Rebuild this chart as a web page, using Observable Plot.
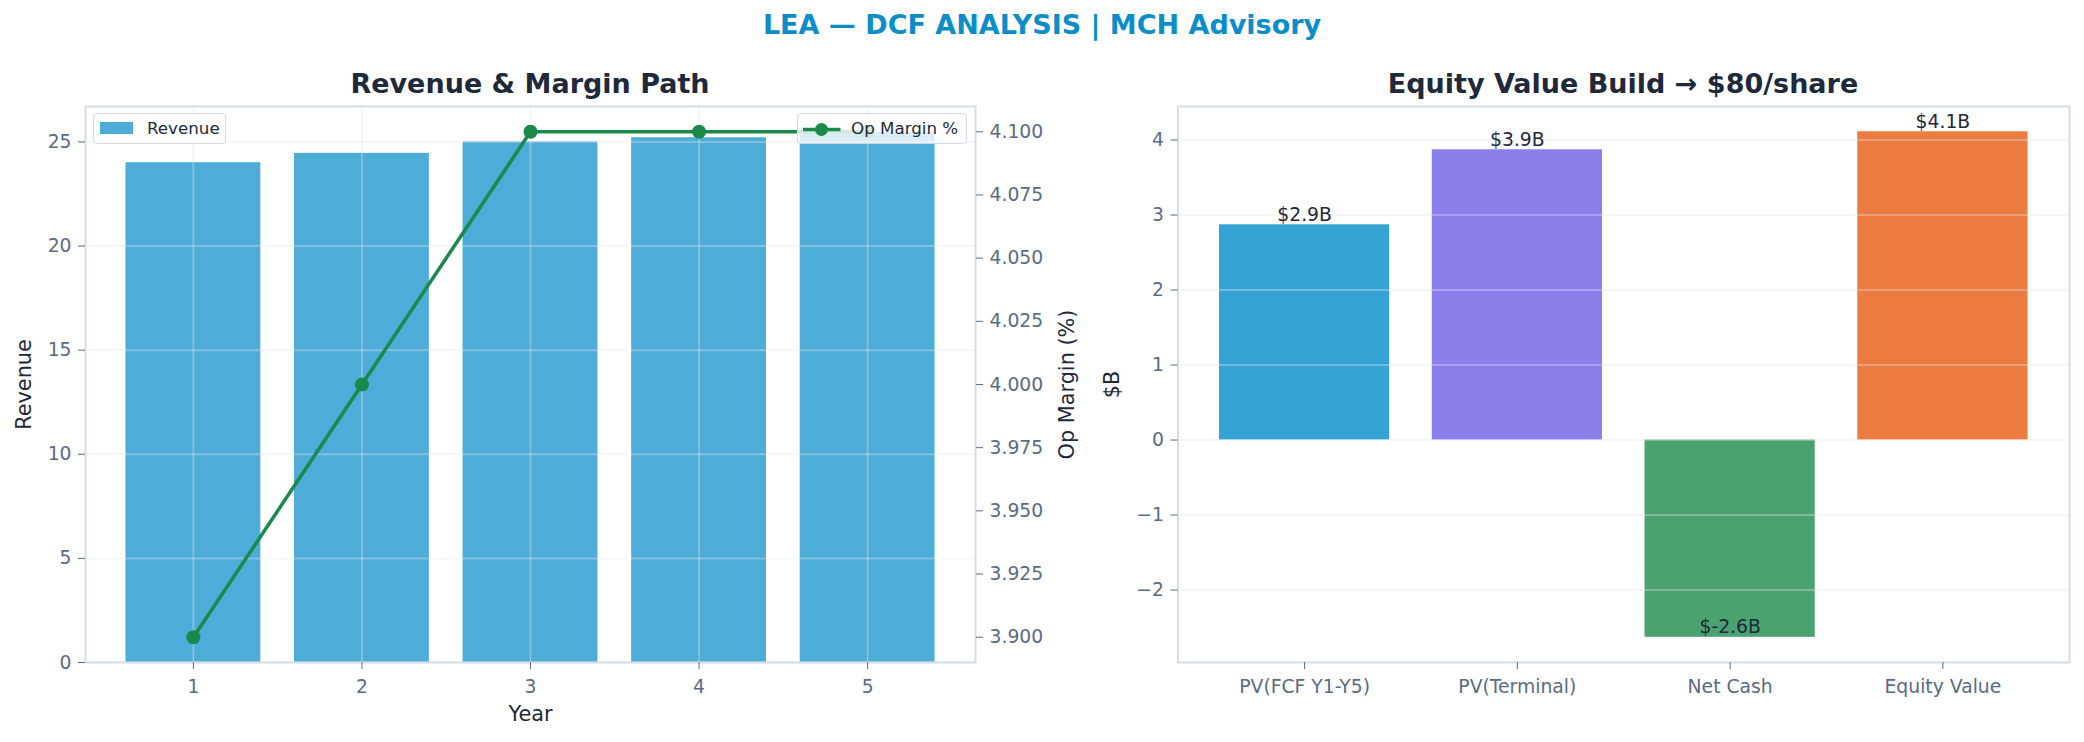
<!DOCTYPE html>
<html>
<head>
<meta charset="utf-8">
<script src="https://cdn.jsdelivr.net/npm/d3@7"></script>
<script src="https://cdn.jsdelivr.net/npm/@observablehq/plot@0.6"></script>
<style>
  html, body { margin: 0; padding: 0; background: #fff; }
  #root { position: relative; width: 2084px; height: 742px; background: #fff; font-family: "DejaVu Sans", sans-serif; overflow: hidden; }
  .abs { position: absolute; }
  .title { position: absolute; left: 0; width: 2084px; text-align: center; font-weight: bold; line-height: 1; white-space: nowrap; }
  .subtitle { position: absolute; text-align: center; font-weight: bold; line-height: 1; color: #1e293b; font-size: 27px; white-space: nowrap; }
  .legend { position: absolute; box-sizing: border-box; border: 1.5px solid #d3d9e0; border-radius: 4px; background: rgba(255,255,255,0.8); font-size: 16.7px; color: #1e293b; line-height: 1; }
  .legend span { position: absolute; white-space: nowrap; }
  svg { overflow: visible; }
</style>
</head>
<body>
<div id="root">
  <div class="title" style="top:11px;font-size:27px;color:#0a8dc9;">LEA — DCF ANALYSIS | MCH Advisory</div>
  <div class="subtitle" style="left:85px;width:890px;top:70px;">Revenue &amp; Margin Path</div>
  <div class="subtitle" style="left:1177px;width:892px;top:70px;">Equity Value Build → $80/share</div>
  <div id="leftBars" class="abs" style="left:0;top:96px;"></div>
  <div id="leftLine" class="abs" style="left:0;top:96px;"></div>
  <div id="right" class="abs" style="left:1100px;top:96px;"></div>
  <div class="legend" style="left:93px;top:113px;width:133px;height:31px;">
    <div class="abs" style="left:6px;top:8px;width:33px;height:11.5px;background:#4dacd8;"></div>
    <span style="left:53px;top:6px;">Revenue</span>
  </div>
  <div class="legend" style="left:797px;top:113px;width:170px;height:31px;">
    <svg class="abs" style="left:4px;top:6px;" width="40" height="20">
      <line x1="1" y1="9.5" x2="38.5" y2="9.5" stroke="#1a8a4a" stroke-width="3.5"></line>
      <circle cx="19.5" cy="9.5" r="6.5" fill="#1a8a4a"></circle>
    </svg>
    <span style="left:53px;top:6px;">Op Margin %</span>
  </div>
</div>
<script>
// ---- data ----
const years = [1, 2, 3, 4, 5];
const revenue = [24.0, 24.45, 25.0, 25.2, 25.45];
const opMargin = [3.9, 4.0, 4.1, 4.1, 4.1];

const bridgeCategories = ["PV(FCF Y1-Y5)", "PV(Terminal)", "Net Cash", "Equity Value"];
const bridgeValues = [2.87, 3.87, -2.63, 4.11];
const bridgeLabels = ["$2.9B", "$3.9B", "$-2.6B", "$4.1B"];

const revenueTicks = [0, 5, 10, 15, 20, 25];
const marginTicks = [3.9, 3.925, 3.95, 3.975, 4.0, 4.025, 4.05, 4.075, 4.1];
const bridgeTicks = [-2, -1, 0, 1, 2, 3, 4];

// ---- styles ----
const barColors = ["#34a3d3", "#8a7eea", "#4aa270", "#ec7b40"];
const tickColor = "#5b6b80";
const labelColor = "#1e293b";
const spineColor = "#d5dde6";
const tickFont = 18.75, axisLabelFont = 20.8;
const gridStyle = {stroke: "#e2e5ea", strokeOpacity: 0.35, strokeWidth: 2};
const baseStyle = {fontSize: tickFont + "px", fontFamily: "DejaVu Sans", color: tickColor, background: "transparent", overflow: "visible"};

const revData = years.map((y, i) => ({year: y, revenue: revenue[i], margin: opMargin[i]}));
const bridgeData = bridgeCategories.map((c, i) => ({cat: c, value: bridgeValues[i], label: bridgeLabels[i], color: barColors[i]}));

const W1 = 1140, H = 646;
const m1 = {marginLeft: 85, marginRight: 165, marginTop: 10, marginBottom: 80};
const xDomain = [0.36, 5.64];

// Left chart: revenue bars
const leftBars = Plot.plot({
  width: W1, height: H, ...m1,
  style: baseStyle,
  x: {domain: xDomain},
  y: {domain: [0, 26.7]},
  marks: [
    Plot.rectY(revData, {x1: d => d.year - 0.4, x2: d => d.year + 0.4, y1: 0, y2: "revenue", fill: "#4dacd8"}),
    Plot.gridX(years, {...gridStyle}),
    Plot.gridY(revenueTicks, {...gridStyle}),
    Plot.frame({stroke: spineColor, strokeWidth: 2}),
    Plot.axisX(years, {tickSize: 7, tickPadding: 10, tickFormat: d3.format("d"), label: null, stroke: tickColor}),
    Plot.axisY(revenueTicks, {tickSize: 7, tickPadding: 7, label: null, stroke: tickColor}),
    Plot.text(["Revenue"], {frameAnchor: "left", dx: -61, rotate: -90, textAnchor: "middle", lineAnchor: "middle", fill: labelColor, fontSize: axisLabelFont}),
    Plot.text(["Year"], {frameAnchor: "bottom", dy: 52, textAnchor: "middle", lineAnchor: "middle", fill: labelColor, fontSize: axisLabelFont})
  ]
});
document.getElementById("leftBars").appendChild(leftBars);

// Left chart: margin line on secondary axis
const leftLine = Plot.plot({
  width: W1, height: H, ...m1,
  style: baseStyle,
  x: {domain: xDomain, axis: null},
  y: {domain: [3.89, 4.11]},
  marks: [
    Plot.line(revData, {x: "year", y: "margin", stroke: "#1a8a4a", strokeWidth: 3.5}),
    Plot.dot(revData, {x: "year", y: "margin", r: 7, fill: "#1a8a4a"}),
    Plot.axisY(marginTicks, {anchor: "right", tickSize: 7, tickPadding: 7, tickFormat: d3.format(".3f"), label: null, stroke: tickColor}),
    Plot.text(["Op Margin (%)"], {frameAnchor: "right", dx: 92, rotate: -90, textAnchor: "middle", lineAnchor: "middle", fill: labelColor, fontSize: axisLabelFont})
  ]
});
document.getElementById("leftLine").appendChild(leftLine);

// Right chart: equity value bridge
const right = Plot.plot({
  width: 984, height: H,
  marginLeft: 77.5, marginRight: 15, marginTop: 10, marginBottom: 80,
  style: baseStyle,
  x: {domain: bridgeCategories, paddingInner: 0.2, paddingOuter: 0.195, round: false},
  y: {domain: [-2.966, 4.447]},
  color: {type: "identity"},
  marks: [
    Plot.barY(bridgeData, {x: "cat", y1: 0, y2: "value", fill: "color"}),
    Plot.gridY(bridgeTicks, {...gridStyle}),
    Plot.frame({stroke: spineColor, strokeWidth: 2}),
    Plot.text(bridgeData, {x: "cat", y: "value", text: "label", lineAnchor: "bottom", dy: -4, fill: labelColor, fontSize: tickFont}),
    Plot.axisX(bridgeCategories, {tickSize: 7, tickPadding: 10, label: null, stroke: tickColor}),
    Plot.axisY(bridgeTicks, {tickSize: 7, tickPadding: 7, tickFormat: d3.format("d"), label: null, stroke: tickColor}),
    Plot.text(["$B"], {frameAnchor: "left", dx: -66, rotate: -90, textAnchor: "middle", lineAnchor: "middle", fill: labelColor, fontSize: axisLabelFont})
  ]
});
document.getElementById("right").appendChild(right);
</script>
</body>
</html>
